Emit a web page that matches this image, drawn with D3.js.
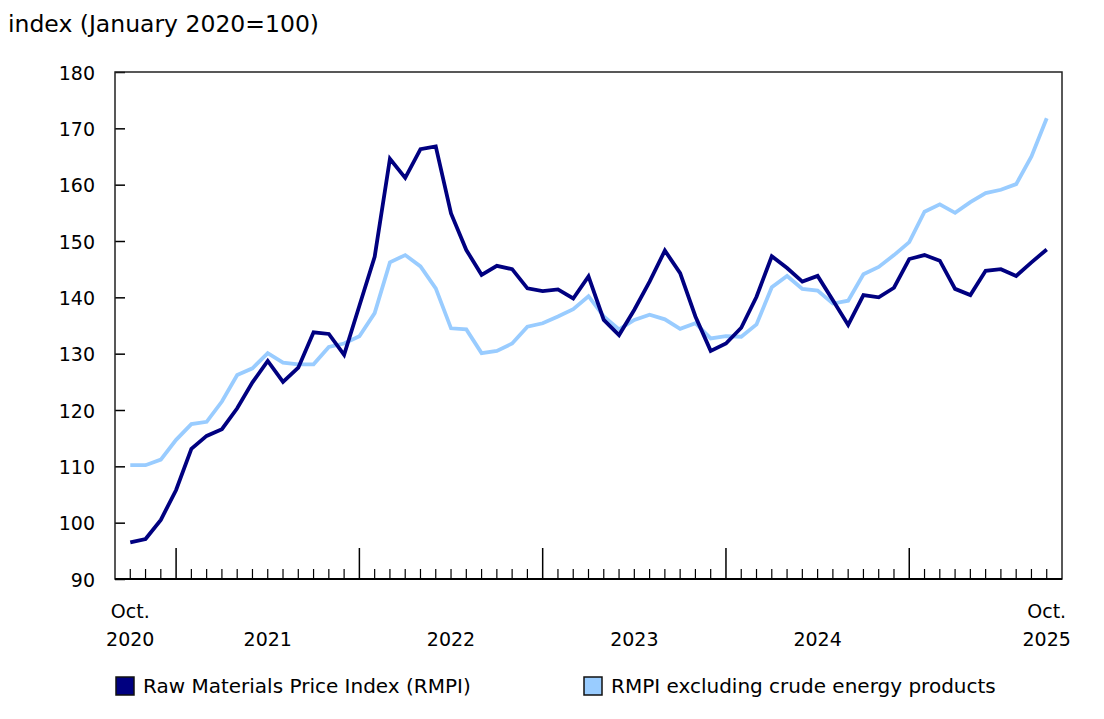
<!DOCTYPE html>
<html>
<head>
<meta charset="utf-8">
<script src="https://cdn.jsdelivr.net/npm/d3@7"></script>
<style>
  body { margin: 0; background: #fff; }
  text { font-family: Verdana, "DejaVu Sans", sans-serif; fill: #000; }
</style>
</head>
<body>
<div id="chart"></div>
<script>
// monthly, Oct 2020 .. Oct 2025
const startYear = 2020, startMonth = 9; // October (0-based)
const rmpi = [
  96.5, 97.1, 100.5, 105.8, 113.1, 115.4, 116.6, 120.3, 124.9, 128.7,
  125.0, 127.5, 133.8, 133.5, 129.8, 138.5, 147.2, 164.6, 161.2, 166.3,
  166.8, 154.9, 148.4, 144.0, 145.6, 145.0, 141.6, 141.1, 141.4, 139.8,
  143.7, 136.0, 133.3, 137.8, 142.8, 148.3, 144.3, 136.6, 130.5, 131.8,
  134.6, 140.1, 147.3, 145.2, 142.8, 143.8, 139.5, 135.1, 140.4, 140.0,
  141.7, 146.8, 147.5, 146.5, 141.5, 140.4, 144.7, 145.0, 143.8, 146.2,
  148.5
];
const rmpiExEnergy = [
  110.2, 110.2, 111.2, 114.7, 117.5, 117.9, 121.5, 126.2, 127.4, 130.1,
  128.4, 128.1, 128.1, 131.2, 131.8, 133.1, 137.2, 146.2, 147.5, 145.5,
  141.6, 134.5, 134.3, 130.1, 130.5, 131.8, 134.8, 135.4, 136.6, 137.9,
  140.2, 136.6, 134.3, 136.0, 136.9, 136.1, 134.4, 135.4, 132.7, 133.1,
  133.0, 135.2, 141.8, 143.8, 141.5, 141.2, 138.9, 139.4, 144.1, 145.4,
  147.5, 149.8, 155.2, 156.5, 155.0, 156.9, 158.5, 159.1, 160.1, 165.0,
  171.8
];
const yTicks = [90, 100, 110, 120, 130, 140, 150, 160, 170, 180];
const yearLabels = ["2021", "2022", "2023", "2024"];
const seriesNames = ["Raw Materials Price Index (RMPI)", "RMPI excluding crude energy products"];
const colors = ["#000080", "#99ccff"];

const W = 1104, H = 719;
const margin = {top: 72, right: 42, bottom: 140, left: 115};
const width = W - margin.left - margin.right;
const height = H - margin.top - margin.bottom;

const svg = d3.select("#chart").append("svg")
  .attr("width", W)
  .attr("height", H);

svg.append("text")
  .attr("x", 8)
  .attr("y", 32)
  .style("font-size", "23.5px")
  .text("index (January 2020=100)");

const g = svg.append("g")
  .attr("transform", "translate(" + margin.left + "," + margin.top + ")");

const n = rmpi.length;
const x = d3.scaleLinear().domain([-1, n]).range([0, width]);
const y = d3.scaleLinear().domain([90, 180]).range([height, 0]);

// y axis, ticks pointing inward
const yAxis = g.append("g")
  .call(d3.axisRight(y).tickValues(yTicks).tickSize(10).tickFormat(d3.format("d")));
yAxis.select(".domain").remove();
yAxis.selectAll(".tick line").attr("stroke", "#000").attr("stroke-width", 1.5);
yAxis.selectAll(".tick text")
  .attr("x", -20)
  .attr("dy", "0.38em")
  .attr("text-anchor", "end")
  .style("font-size", "19px")
  .style("font-family", "Verdana, 'DejaVu Sans', sans-serif");

// month ticks
const months = d3.range(n);
g.selectAll(".mtick")
  .data(months)
  .enter().append("line")
  .attr("x1", d => x(d))
  .attr("x2", d => x(d))
  .attr("y1", height)
  .attr("y2", d => ((startMonth + d) % 12 === 0) ? height - 31 : height - 10)
  .attr("stroke", "#000")
  .attr("stroke-width", d => ((startMonth + d) % 12 === 0) ? 1.5 : 1.2);

// frame
g.append("rect")
  .attr("width", width)
  .attr("height", height)
  .attr("fill", "none")
  .attr("stroke", "#222")
  .attr("stroke-width", 1.5);
g.append("line")
  .attr("x1", 0).attr("x2", width)
  .attr("y1", height).attr("y2", height)
  .attr("stroke", "#000").attr("stroke-width", 2.2);

// x labels
const xl = g.append("g").style("font-size", "19px").attr("text-anchor", "middle");
xl.append("text").attr("x", x(0)).attr("y", height + 39).text("Oct.");
xl.append("text").attr("x", x(0)).attr("y", height + 67).text(String(startYear));
xl.append("text").attr("x", x(n - 1)).attr("y", height + 39).text("Oct.");
xl.append("text").attr("x", x(n - 1)).attr("y", height + 67).text(String(startYear + 5));
yearLabels.forEach((lab, i) => {
  // centred on July of each year
  const idx = (12 - startMonth) + 12 * i + 6;
  xl.append("text").attr("x", x(idx)).attr("y", height + 67).text(lab);
});

// lines
const line = d3.line()
  .x((d, i) => x(i))
  .y(d => y(d));

[rmpiExEnergy, rmpi].forEach((s, k) => {
  g.append("path")
    .datum(s)
    .attr("fill", "none")
    .attr("stroke", k === 0 ? colors[1] : colors[0])
    .attr("stroke-width", 3.8)
    .attr("stroke-linejoin", "miter")
    .attr("d", line);
});

// legend
const legendX = [115, 583];
seriesNames.forEach((name, i) => {
  const lg = svg.append("g").attr("transform", "translate(" + legendX[i] + ",676)");
  lg.append("rect")
    .attr("x", 1).attr("y", 1)
    .attr("width", 18).attr("height", 18)
    .attr("fill", colors[i])
    .attr("stroke", "#111")
    .attr("stroke-width", 1.5);
  lg.append("text")
    .attr("x", 28)
    .attr("y", 17)
    .style("font-size", "20px")
    .text(name);
});
</script>
</body>
</html>
